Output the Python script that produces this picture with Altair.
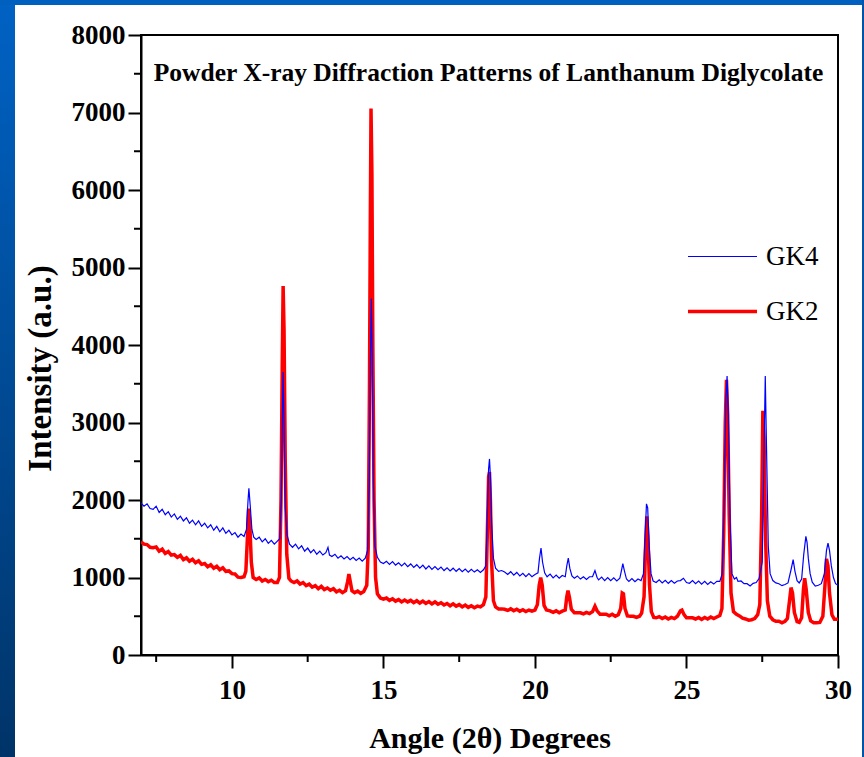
import altair as alt
import pandas as pd

# ---- data (angle 2θ, intensity a.u.) ----
GK4 = [
    (7.0, 1960), (7.1, 1920), (7.2, 1950), (7.3, 1890), (7.4, 1880), (7.5, 1920), (7.6, 1840),
    (7.7, 1880), (7.8, 1810), (7.9, 1850), (8.0, 1780), (8.1, 1820), (8.2, 1750), (8.3, 1790),
    (8.4, 1730), (8.5, 1770), (8.6, 1700), (8.7, 1740), (8.8, 1680), (8.9, 1730), (9.0, 1660),
    (9.1, 1700), (9.2, 1640), (9.3, 1680), (9.4, 1610), (9.5, 1660), (9.6, 1590), (9.7, 1640),
    (9.8, 1570), (9.9, 1610), (10.0, 1550), (10.1, 1580), (10.2, 1520), (10.3, 1560), (10.4, 1530),
    (10.48, 1620), (10.53, 1980), (10.56, 2150), (10.6, 1950), (10.66, 1620), (10.72, 1520),
    (10.8, 1490), (10.9, 1520), (11.0, 1460), (11.1, 1500), (11.2, 1440), (11.3, 1480), (11.4, 1430),
    (11.5, 1470), (11.58, 1500), (11.63, 2000), (11.67, 3200), (11.69, 3650), (11.72, 3000),
    (11.76, 1900), (11.82, 1550), (11.9, 1430), (12.0, 1390), (12.1, 1430), (12.2, 1370),
    (12.3, 1410), (12.4, 1340), (12.5, 1380), (12.6, 1320), (12.7, 1360), (12.8, 1300), (12.9, 1340),
    (13.0, 1290), (13.1, 1320), (13.17, 1390), (13.22, 1290), (13.3, 1270), (13.4, 1300),
    (13.5, 1250), (13.6, 1280), (13.7, 1240), (13.8, 1270), (13.9, 1230), (14.0, 1260), (14.1, 1220),
    (14.2, 1250), (14.3, 1210), (14.4, 1250), (14.48, 1350), (14.53, 2200), (14.57, 3800),
    (14.6, 4600), (14.63, 3900), (14.67, 2200), (14.72, 1400), (14.8, 1260), (14.9, 1200),
    (15.0, 1180), (15.1, 1210), (15.2, 1170), (15.3, 1205), (15.4, 1160), (15.5, 1190), (15.6, 1150),
    (15.7, 1185), (15.8, 1140), (15.9, 1175), (16.0, 1130), (16.1, 1165), (16.2, 1120), (16.3, 1160),
    (16.4, 1110), (16.5, 1150), (16.6, 1105), (16.7, 1140), (16.8, 1100), (16.9, 1135), (17.0, 1090),
    (17.1, 1125), (17.2, 1085), (17.3, 1120), (17.4, 1080), (17.5, 1115), (17.6, 1075), (17.7, 1110),
    (17.8, 1070), (17.9, 1105), (18.0, 1070), (18.1, 1100), (18.2, 1065), (18.3, 1100), (18.38, 1150),
    (18.43, 1800), (18.47, 2400), (18.5, 2530), (18.53, 2300), (18.57, 1700), (18.63, 1250),
    (18.7, 1120), (18.8, 1080), (18.9, 1090), (19.0, 1070), (19.1, 1040), (19.2, 1075), (19.3, 1030),
    (19.4, 1065), (19.5, 1020), (19.6, 1055), (19.7, 1010), (19.8, 1050), (19.9, 1010), (20.0, 1040),
    (20.1, 1060), (20.15, 1250), (20.2, 1380), (20.25, 1200), (20.32, 1060), (20.4, 1010),
    (20.5, 1045), (20.6, 995), (20.7, 1030), (20.8, 990), (20.9, 1025), (21.0, 1010), (21.05, 1150),
    (21.1, 1250), (21.15, 1120), (21.22, 1020), (21.3, 990), (21.4, 1020), (21.5, 980), (21.6, 1010),
    (21.7, 975), (21.8, 1010), (21.9, 1010), (21.98, 1090), (22.05, 1000), (22.1, 970), (22.2, 1005),
    (22.3, 960), (22.4, 1000), (22.5, 960), (22.6, 995), (22.7, 955), (22.8, 990), (22.86, 1100),
    (22.9, 1180), (22.95, 1090), (23.02, 980), (23.1, 950), (23.2, 985), (23.3, 945), (23.4, 980),
    (23.5, 960), (23.58, 1050), (23.63, 1500), (23.68, 1950), (23.72, 1900), (23.77, 1400),
    (23.83, 1050), (23.9, 955), (24.0, 935), (24.1, 970), (24.2, 930), (24.3, 965), (24.4, 925),
    (24.5, 960), (24.6, 925), (24.7, 955), (24.8, 960), (24.9, 990), (25.0, 935), (25.1, 925),
    (25.2, 960), (25.3, 920), (25.4, 955), (25.5, 915), (25.6, 950), (25.7, 910), (25.8, 945),
    (25.9, 915), (26.0, 950), (26.1, 950), (26.18, 1050), (26.24, 1900), (26.3, 3300), (26.34, 3600),
    (26.38, 3100), (26.44, 1700), (26.5, 1050), (26.58, 980), (26.65, 1000), (26.7, 950),
    (26.8, 955), (26.9, 920), (27.0, 920), (27.1, 890), (27.2, 925), (27.3, 935), (27.4, 990),
    (27.5, 1200), (27.55, 2400), (27.6, 3600), (27.64, 2700), (27.7, 1400), (27.76, 1050),
    (27.85, 960), (27.95, 930), (28.05, 920), (28.15, 895), (28.25, 910), (28.35, 930), (28.45, 1100),
    (28.52, 1230), (28.58, 1080), (28.65, 960), (28.72, 930), (28.8, 980), (28.87, 1300),
    (28.94, 1530), (28.98, 1450), (29.02, 1250), (29.08, 1050), (29.15, 940), (29.25, 890),
    (29.35, 900), (29.45, 920), (29.55, 1050), (29.62, 1350), (29.67, 1445), (29.72, 1350),
    (29.78, 1150), (29.85, 1000), (29.92, 920), (30.0, 900),
]

GK2 = [
    (7.0, 1460), (7.1, 1430), (7.2, 1425), (7.3, 1390), (7.4, 1385), (7.5, 1395), (7.6, 1340),
    (7.7, 1365), (7.8, 1310), (7.9, 1335), (8.0, 1290), (8.1, 1295), (8.2, 1260), (8.3, 1285),
    (8.4, 1230), (8.5, 1255), (8.6, 1210), (8.7, 1235), (8.8, 1190), (8.9, 1215), (9.0, 1170),
    (9.1, 1180), (9.2, 1140), (9.3, 1165), (9.4, 1120), (9.5, 1145), (9.6, 1100), (9.7, 1125),
    (9.8, 1080), (9.9, 1085), (10.0, 1050), (10.1, 1045), (10.2, 1005), (10.3, 1000), (10.4, 1010),
    (10.46, 1080), (10.51, 1500), (10.55, 1890), (10.59, 1700), (10.64, 1200), (10.7, 1000),
    (10.8, 975), (10.9, 995), (11.0, 955), (11.1, 975), (11.2, 945), (11.3, 965), (11.4, 935),
    (11.5, 935), (11.57, 1000), (11.62, 2000), (11.66, 3700), (11.69, 4760), (11.72, 4200),
    (11.76, 2500), (11.81, 1300), (11.88, 990), (11.95, 955), (12.05, 935), (12.15, 955),
    (12.25, 915), (12.35, 935), (12.45, 895), (12.55, 915), (12.65, 875), (12.75, 895), (12.85, 855),
    (12.95, 885), (13.05, 845), (13.15, 865), (13.25, 835), (13.35, 855), (13.45, 815), (13.55, 835),
    (13.65, 805), (13.75, 830), (13.82, 950), (13.86, 1045), (13.9, 960), (13.96, 830), (14.05, 805),
    (14.15, 825), (14.25, 795), (14.35, 820), (14.45, 900), (14.5, 1400), (14.54, 3500),
    (14.57, 5800), (14.59, 7050), (14.62, 6200), (14.65, 4000), (14.69, 2000), (14.74, 1000),
    (14.8, 790), (14.9, 735), (15.0, 720), (15.1, 735), (15.2, 705), (15.3, 725), (15.4, 695),
    (15.5, 715), (15.6, 685), (15.7, 710), (15.8, 685), (15.9, 705), (16.0, 675), (16.1, 700),
    (16.2, 670), (16.3, 695), (16.4, 665), (16.5, 690), (16.6, 660), (16.7, 685), (16.8, 655),
    (16.9, 675), (17.0, 645), (17.1, 665), (17.2, 635), (17.3, 660), (17.4, 630), (17.5, 650),
    (17.6, 620), (17.7, 645), (17.8, 615), (17.9, 635), (18.0, 610), (18.1, 630), (18.2, 620),
    (18.3, 650), (18.38, 750), (18.43, 1600), (18.47, 2300), (18.5, 2360), (18.53, 2000),
    (18.57, 1200), (18.63, 700), (18.7, 620), (18.8, 595), (18.9, 595), (19.0, 590), (19.1, 575),
    (19.2, 595), (19.3, 570), (19.4, 590), (19.5, 565), (19.6, 585), (19.7, 560), (19.8, 580),
    (19.9, 565), (20.0, 580), (20.08, 650), (20.14, 900), (20.19, 1000), (20.24, 900), (20.3, 640),
    (20.38, 580), (20.5, 570), (20.6, 550), (20.7, 570), (20.8, 545), (20.9, 565), (21.0, 580),
    (21.05, 750), (21.09, 830), (21.14, 740), (21.2, 590), (21.3, 545), (21.4, 545), (21.5, 545),
    (21.6, 530), (21.7, 550), (21.8, 535), (21.9, 560), (21.98, 630), (22.05, 570), (22.15, 525),
    (22.25, 525), (22.35, 525), (22.45, 505), (22.55, 525), (22.65, 500), (22.75, 520), (22.83, 600),
    (22.88, 800), (22.92, 790), (22.97, 600), (23.05, 505), (23.15, 500), (23.25, 500), (23.35, 485),
    (23.45, 500), (23.52, 540), (23.6, 750), (23.65, 1400), (23.69, 1790), (23.73, 1500),
    (23.78, 900), (23.84, 560), (23.92, 485), (24.0, 480), (24.1, 495), (24.2, 470), (24.3, 490),
    (24.4, 465), (24.5, 485), (24.6, 470), (24.7, 500), (24.8, 570), (24.85, 580), (24.92, 520),
    (25.0, 480), (25.1, 480), (25.2, 480), (25.3, 465), (25.4, 485), (25.5, 460), (25.6, 485),
    (25.7, 465), (25.8, 490), (25.9, 470), (26.0, 490), (26.1, 510), (26.17, 600), (26.23, 1600),
    (26.28, 3000), (26.32, 3550), (26.36, 3100), (26.41, 1800), (26.47, 800), (26.55, 560),
    (26.65, 525), (26.75, 505), (26.85, 475), (26.95, 465), (27.05, 450), (27.15, 455), (27.25, 470),
    (27.35, 520), (27.42, 650), (27.48, 1800), (27.52, 3150), (27.56, 2800), (27.61, 1500),
    (27.67, 700), (27.75, 500), (27.85, 455), (27.95, 435), (28.05, 435), (28.15, 415), (28.25, 435),
    (28.33, 470), (28.4, 700), (28.45, 870), (28.5, 800), (28.56, 550), (28.65, 430), (28.72, 420),
    (28.8, 480), (28.86, 850), (28.9, 990), (28.95, 850), (29.02, 550), (29.1, 440), (29.2, 415),
    (29.3, 415), (29.4, 420), (29.5, 500), (29.57, 900), (29.62, 1240), (29.67, 1150), (29.72, 800),
    (29.8, 520), (29.88, 460), (30.0, 460),
]

SERIES = ["GK4", "GK2"]
SERIES_COLORS = ["#0000FF", "#FF0000"]
SERIES_WIDTHS = [1.2, 3.5]

X_MAJOR = [10, 15, 20, 25, 30]
X_MINOR = [7.5, 12.5, 17.5, 22.5, 27.5]
Y_MAJOR = [0, 1000, 2000, 3000, 4000, 5000, 6000, 7000, 8000]
Y_MINOR = [500, 1500, 2500, 3500, 4500, 5500, 6500, 7500]

TITLE = "Powder X-ray Diffraction Patterns of Lanthanum Diglycolate"
X_TITLE = "Angle (2θ) Degrees"
Y_TITLE = "Intensity (a.u.)"

SERIF = "Liberation Serif"
W, H = 697, 620

df4 = pd.DataFrame(GK4, columns=["angle", "intensity"]).assign(series="GK4")
df2 = pd.DataFrame(GK2, columns=["angle", "intensity"]).assign(series="GK2")

xscale = alt.Scale(domain=[7, 30], nice=False, zero=False)
yscale = alt.Scale(domain=[0, 8000], nice=False)
color_scale = alt.Scale(domain=SERIES, range=SERIES_COLORS)
width_scale = alt.Scale(domain=SERIES, range=SERIES_WIDTHS)

x_axis = alt.Axis(values=X_MAJOR, title=X_TITLE, tickSize=13, labelPadding=9,
                  labelFlush=False, titlePadding=20, grid=False, format="d")
y_axis = alt.Axis(values=Y_MAJOR, title=Y_TITLE, tickSize=13, labelPadding=3,
                  titlePadding=14, grid=False, format="d", titleY=333)

legend = alt.Legend(orient="none", legendX=545, legendY=186, title=None,
                    symbolType="stroke", symbolSize=4761, labelFont=SERIF,
                    labelFontSize=27, labelFontWeight="normal", labelColor="black",
                    labelOffset=7, rowPadding=5, symbolOpacity=1)

def line_layer(df):
    return alt.Chart(df).mark_line(clip=True).encode(
        x=alt.X("angle:Q", scale=xscale, axis=x_axis),
        y=alt.Y("intensity:Q", scale=yscale, axis=y_axis),
        color=alt.Color("series:N", scale=color_scale, legend=legend),
        strokeWidth=alt.StrokeWidth("series:N", scale=width_scale, legend=legend),
    )

one = pd.DataFrame({"k": [0]})

# slide decoration (blue frame around the white slide)
band_left = alt.Chart(one).mark_rect(
    color=alt.LinearGradient(gradient="linear", x1=0, x2=0, y1=0, y2=1,
                             stops=[alt.GradientStop(color="#0062C4", offset=0),
                                    alt.GradientStop(color="#003468", offset=1)])
).encode(x=alt.value(-141), x2=alt.value(-126), y=alt.value(-35), y2=alt.value(722))
band_top = alt.Chart(one).mark_rect(color="#0060C0").encode(
    x=alt.value(-141), x2=alt.value(723), y=alt.value(-35), y2=alt.value(-30))
band_right = alt.Chart(one).mark_rect(color="#0055AA").encode(
    x=alt.value(721), x2=alt.value(723), y=alt.value(-35), y2=alt.value(722))

minor_x = alt.Chart(pd.DataFrame({"v": X_MINOR})).mark_rule(color="black", strokeWidth=2).encode(
    x=alt.X("v:Q", scale=xscale), y=alt.value(H), y2=alt.value(H + 7))
minor_y = alt.Chart(pd.DataFrame({"v": Y_MINOR})).mark_rule(color="black", strokeWidth=2).encode(
    y=alt.Y("v:Q", scale=yscale), x=alt.value(-7), x2=alt.value(0))

title = alt.Chart(pd.DataFrame({"t": [TITLE]})).mark_text(
    font=SERIF, fontSize=25.5, fontWeight="bold", color="black", align="center",
    baseline="middle").encode(text="t:N", x=alt.value(W / 2 - 1), y=alt.value(38))

chart = alt.layer(
    band_left, band_top, band_right,
    line_layer(df2), line_layer(df4),
    minor_x, minor_y, title,
).properties(
    width=W, height=H,
    autosize=alt.AutoSizeParams(type="none"),
    padding={"left": 141, "top": 35, "right": 26, "bottom": 102},
    background="white",
).configure_view(
    stroke="black", strokeWidth=2,
).configure_axis(
    domainColor="black", domainWidth=2, tickColor="black", tickWidth=2,
    labelFont=SERIF, labelFontSize=27, labelFontWeight="bold", labelColor="black",
    titleFont=SERIF, titleFontWeight="bold", titleColor="black", zindex=1,
).configure_axisX(titleFontSize=30).configure_axisY(titleFontSize=33)

chart.save("out.html", embed_options={"renderer": "svg", "actions": False})
